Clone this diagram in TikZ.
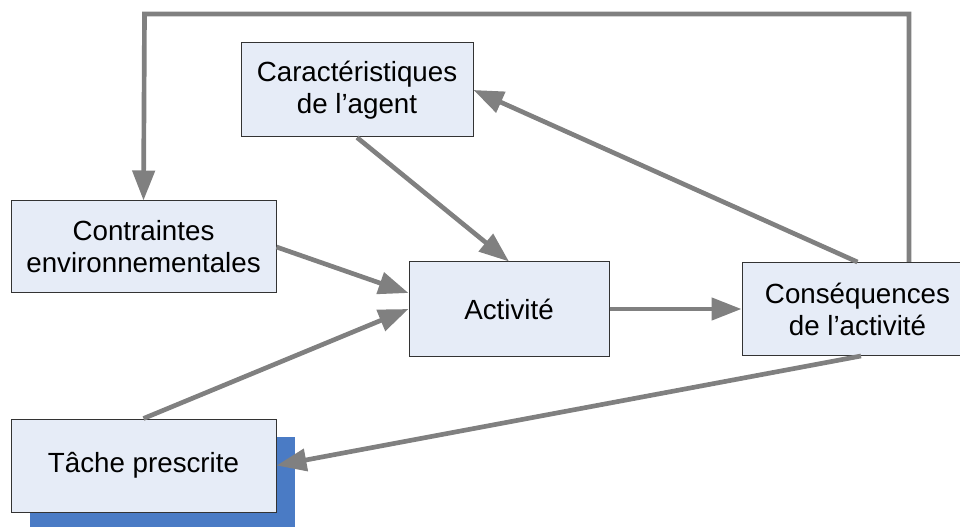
\documentclass[tikz,border=0pt]{standalone}
\usepackage{fontspec}
\setmainfont{Liberation Sans}
\usepackage{xcolor}
\usetikzlibrary{positioning,arrows.meta,shadows}
\definecolor{fondbloc}{HTML}{E6ECF7}
\definecolor{bleuombre}{HTML}{4A7BC5}
\definecolor{gris}{HTML}{808080}
\tikzstyle{bloc}=  [draw=black!80,
line width=0.75pt,
rectangle,
fill=fondbloc,
align=center,
inner sep=0pt,
]
\tikzstyle{ombre}= [drop shadow={shadow xshift=14.25pt,shadow yshift=-13.5pt,
fill=bleuombre,opacity=1},
]
\tikzstyle{fleche}=[draw=gris,
line width=3.5pt,
-{Triangle[length=22.5pt,width=16.5pt]},
]

\begin{document}
\begin{tikzpicture}[x=0.75pt,y=-0.75pt,font=\fontsize{20.8}{24}\selectfont]
        \useasboundingbox (0,0) rectangle (960,527);
        \node[bloc, minimum width=150pt, minimum height=70.5pt] (act) at (509,309) {Activité};
        \node[bloc, minimum width=173.25pt, minimum height=69.75pt, right=99pt of act] (cons) {Conséquences\\de l’activité};
        \node[bloc, minimum width=198.75pt, minimum height=69pt, left=99pt of act, yshift=46.5pt] (contr) {Contraintes\\environnementales};
        \node[bloc, ombre, minimum width=198.75pt, minimum height=69.75pt, below=93.75pt of contr] (tache) {Tâche prescrite};
        \node[bloc, minimum width=174pt, minimum height=70.5pt, above=93pt of act, xshift=-114pt] (agent) {Caractéristiques\\de l’agent};
        \coordinate (retour) at (144.5,14);

        \draw[fleche] ([xshift=38.6pt]cons.north) |- (retour) -- (contr.north);
        \draw[fleche] (cons.north) -- (agent.east);
        \draw[fleche] (agent.south) -- (act.north);
        \draw[fleche] (contr.east) -- ([yshift=12pt]act.west);
        \draw[fleche] (tache.north) -- (act.west);
        \draw[fleche] (act.east) -- (cons.west);
        \draw[fleche] ([xshift=2.6pt]cons.south) -- (tache.east);
    \end{tikzpicture}
\end{document}
